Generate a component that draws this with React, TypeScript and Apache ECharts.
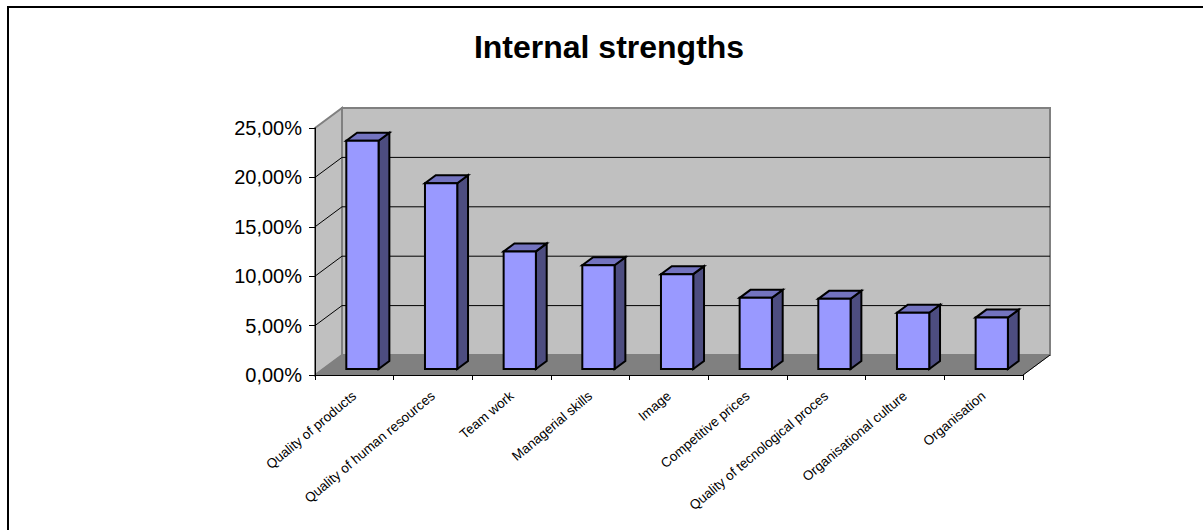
import React, { useEffect, useRef } from "react";
import * as echarts from "echarts";

const titleText = "Internal strengths";
const categories = [
  "Quality of products",
  "Quality of human resources",
  "Team work",
  "Managerial skills",
  "Image",
  "Competitive prices",
  "Quality of tecnological proces",
  "Organisational culture",
  "Organisation",
];
const values = [23.1, 18.8, 11.9, 10.5, 9.6, 7.2, 7.1, 5.7, 5.2];
const yTicks = [0, 5, 10, 15, 20, 25];

const FONT = "'Liberation Sans', Arial, sans-serif";
const DX = 27;
const DY = -20;

export default function App() {
  const ref = useRef<HTMLDivElement>(null);
  useEffect(() => {
    if (!ref.current) return;
    const chart = echarts.init(ref.current, undefined, { renderer: "svg" });
    const yMin = yTicks[0];
    const yMax = yTicks[yTicks.length - 1];
    const yStep = yTicks[1] - yTicks[0];

    const wallsRender = (params: any, api: any) => {
      const cs = params.coordSys;
      const x0 = cs.x, y0 = cs.y, x1 = cs.x + cs.width, y1 = cs.y + cs.height;
      const children: any[] = [];
      children.push({
        type: "polygon",
        shape: { points: [[x0, y0], [x0 + DX, y0 + DY], [x0 + DX, y1 + DY], [x0, y1]] },
        style: { fill: "#C0C0C0", stroke: "#808080", lineWidth: 2, lineJoin: "miter" },
      });
      children.push({
        type: "rect",
        shape: { x: x0 + DX, y: y0 + DY, width: cs.width, height: cs.height },
        style: { fill: "#C0C0C0", stroke: "#808080", lineWidth: 2 },
      });
      children.push({
        type: "polygon",
        shape: { points: [[x0, y1], [x0 + DX, y1 + DY], [x1 + DX, y1 + DY], [x1, y1]] },
        style: { fill: "#808080", stroke: "#808080", lineWidth: 1 },
      });
      yTicks.forEach((v) => {
        if (v === yMin || v === yMax) return;
        const y = api.coord([0, v])[1];
        children.push({
          type: "polyline",
          shape: { points: [[x0, y], [x0 + DX, y + DY], [x1 + DX, y + DY]] },
          style: { fill: "none", stroke: "#000", lineWidth: 1 },
        });
      });
      children.push({
        type: "line",
        shape: { x1: x1, y1: y1, x2: x1 + DX, y2: y1 + DY },
        style: { stroke: "#000", lineWidth: 1 },
      });
      return { type: "group", children };
    };

    const barRender = (params: any, api: any) => {
      const idx = api.value(0);
      const val = api.value(1);
      const base = api.coord([idx, 0]);
      const top = api.coord([idx, val]);
      const band = api.size([1, 0])[0];
      const w = band * 0.41;
      const f0 = 0.3;
      const fd = 0.4;
      const cx = base[0] + DX * f0;
      const yb = base[1] + DY * f0;
      const yt = top[1] + DY * f0;
      const xl = cx - w / 2;
      const xr = cx + w / 2;
      const dx = DX * fd;
      const dy = DY * fd;
      const stroke = { stroke: "#000", lineWidth: 2, lineJoin: "miter" };
      return {
        type: "group",
        children: [
          {
            type: "polygon",
            shape: { points: [[xr, yt], [xr + dx, yt + dy], [xr + dx, yb + dy], [xr, yb]] },
            style: { fill: "#4D4D80", ...stroke },
          },
          {
            type: "polygon",
            shape: { points: [[xl, yt], [xr, yt], [xr + dx, yt + dy], [xl + dx, yt + dy]] },
            style: { fill: "#7373BF", ...stroke },
          },
          {
            type: "rect",
            shape: { x: xl, y: yt, width: w, height: yb - yt },
            style: { fill: "#9999FF", ...stroke },
          },
        ],
      };
    };

    chart.setOption({
      animation: false,
      title: {
        text: titleText,
        left: 604,
        textAlign: "center",
        top: 26,
        textStyle: { fontFamily: FONT, fontSize: 32, fontWeight: "bold", color: "#000" },
      },
      graphic: [
        {
          type: "rect",
          z: -10,
          silent: true,
          shape: { x: 8, y: 7, width: 1400, height: 800 },
          style: { fill: "none", stroke: "#000", lineWidth: 2 },
        },
      ],
      grid: { left: 315, top: 128, width: 708, height: 247, containLabel: false },
      xAxis: {
        type: "category",
        data: categories,
        z: 5,
        axisLine: { show: true, lineStyle: { color: "#000", width: 1 } },
        axisTick: { show: true, length: 5, lineStyle: { color: "#000" } },
        axisLabel: {
          interval: 0,
          rotate: 40,
          margin: 19,
          fontFamily: FONT,
          fontSize: 13.5,
          color: "#000",
        },
        splitLine: { show: false },
      },
      yAxis: {
        type: "value",
        min: yMin,
        max: yMax,
        interval: yStep,
        z: 5,
        axisLine: { show: true, lineStyle: { color: "#000", width: 1 } },
        axisTick: { show: true, length: 6, lineStyle: { color: "#000" } },
        axisLabel: {
          margin: 13,
          fontFamily: FONT,
          fontSize: 20,
          color: "#000",
          formatter: (v: number) => v.toFixed(2).replace(".", ",") + "%",
        },
        splitLine: { show: false },
      },
      series: [
        {
          type: "custom",
          z: 1,
          silent: true,
          clip: false,
          renderItem: wallsRender,
          data: [[0, 0]],
          encode: { x: 0, y: 1 },
        },
        {
          type: "custom",
          z: 3,
          clip: false,
          renderItem: barRender,
          data: values.map((v, i) => [i, v]),
          encode: { x: 0, y: 1 },
        },
      ],
    });
    return () => chart.dispose();
  }, []);
  return (
    <div
      ref={ref}
      style={{ position: "absolute", left: 0, top: 0, width: 1203, height: 530 }}
    />
  );
}
